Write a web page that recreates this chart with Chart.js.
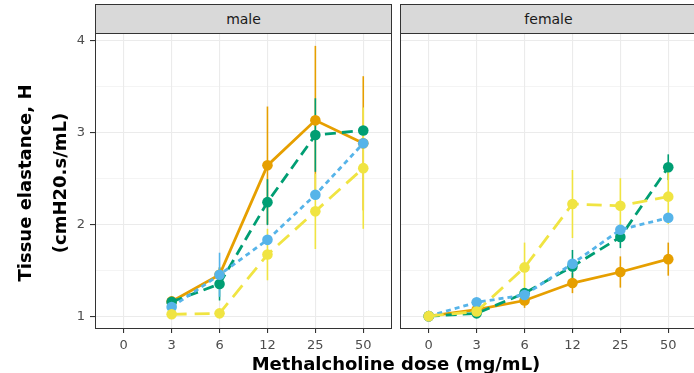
<!DOCTYPE html>
<html lang="en">
<head>
  <meta charset="UTF-8">
  <title>Tissue elastance vs methalcholine dose</title>
  <script src="https://cdn.jsdelivr.net/npm/chart.js"></script>
  <style>
    body {
      margin: 0;
      background: #fff;
      font-family: "DejaVu Sans", sans-serif;
    }
    #wrap {
      position: relative;
      width: 694px;
      height: 373px;
      overflow: hidden;
    }
    canvas {
      position: absolute;
      top: 0;
    }
    .strip {
      position: absolute;
      top: 4px;
      height: 30px;
      box-sizing: border-box;
      border: 1px solid #333;
      background: #d9d9d9;
      color: #1a1a1a;
      font-size: 14px;
      line-height: 28px;
      text-align: center;
    }
    .ytitle {
      position: absolute;
      width: 300px;
      height: 22px;
      line-height: 22px;
      text-align: center;
      font-weight: bold;
      font-size: 18px;
      transform: rotate(-90deg);
    }
    #xtitle {
      position: absolute;
      left: 246px;
      width: 300px;
      top: 354px;
      line-height: 20px;
      text-align: center;
      font-weight: bold;
      font-size: 18px;
      white-space: nowrap;
    }
  </style>
</head>
<body>
  <div id="wrap">
    <canvas id="maleChart" width="393" height="373" style="left:0"></canvas>
    <canvas id="femaleChart" width="299" height="373" style="left:399px"></canvas>

    <div class="strip" style="left:95px; width:297px">male</div>
    <div class="strip" style="left:400px; width:297px">female</div>

    <div class="ytitle" style="left:-125px; top:172px">Tissue elastance, H</div>
    <div class="ytitle" style="left:-90px; top:172px">(cmH20.s/mL)</div>
    <div id="xtitle">Methalcholine dose (mg/mL)</div>
  </div>

  <script>
    // x categories (doses) and y ticks
    const doseLabels = ["0", "3", "6", "12", "25", "50"];
    const doseIdx = [0, 1, 2, 3, 4, 5];
    const yTicks = [1, 1.5, 2, 2.5, 3, 3.5, 4];

    // male panel: mean and error per dose
    const maleOrange = [null, 1.16, 1.45, 2.64, 3.13, 2.88];
    const maleOrangeErr = [0, 0.04, 0.08, 0.64, 0.81, 0.73];
    const maleGreen = [null, 1.155, 1.35, 2.24, 2.97, 3.02];
    const maleGreenErr = [0, 0.03, 0.18, 0.25, 0.4, 0.05];
    const maleBlue = [null, 1.10, 1.45, 1.83, 2.32, 2.88];
    const maleBlueErr = [0, 0.03, 0.24, 0.05, 0.05, 0.05];
    const maleYellow = [null, 1.02, 1.03, 1.67, 2.14, 2.61];
    const maleYellowErr = [0, 0.02, 0.02, 0.28, 0.41, 0.66];

    // female panel
    const femaleOrange = [1.0, 1.07, 1.17, 1.36, 1.48, 1.62];
    const femaleOrangeErr = [0, 0.03, 0.08, 0.11, 0.17, 0.18];
    const femaleGreen = [1.0, 1.03, 1.25, 1.54, 1.86, 2.62];
    const femaleGreenErr = [0, 0.02, 0.05, 0.18, 0.12, 0.14];
    const femaleBlue = [1.0, 1.15, 1.23, 1.57, 1.94, 2.07];
    const femaleBlueErr = [0, 0.04, 0.05, 0.05, 0.06, 0.05];
    const femaleYellow = [1.0, 1.05, 1.53, 2.22, 2.20, 2.30];
    const femaleYellowErr = [0, 0.02, 0.27, 0.37, 0.30, 0.30];

    const styles = {
      orange: { color: "#E69F00", dash: [], order: 3 },
      green: { color: "#009E73", dash: [11, 6], order: 2 },
      blue: { color: "#56B4E9", dash: [5, 4], order: 1 },
      yellow: { color: "#F0E442", dash: [15, 8], order: 0 }
    };

    function series(values, errs, style) {
      const s = styles[style];
      return {
        data: doseIdx.map((x, i) => ({ x: x, y: values[i] })),
        err: errs,
        borderColor: s.color,
        backgroundColor: s.color,
        pointBackgroundColor: s.color,
        borderDash: s.dash,
        borderWidth: 2.8,
        pointRadius: 5.3,
        pointBorderWidth: 0,
        order: s.order,
        tension: 0
      };
    }

    // vertical error bars, under the lines and points
    const errorBars = {
      id: "errorBars",
      beforeDatasetsDraw(chart) {
        const { ctx, chartArea, scales } = chart;
        ctx.save();
        ctx.beginPath();
        ctx.rect(chartArea.left, chartArea.top, chartArea.width, chartArea.height);
        ctx.clip();
        chart.data.datasets.forEach(ds => {
          ctx.strokeStyle = ds.borderColor;
          ctx.lineWidth = 1.6;
          ds.data.forEach((p, i) => {
            if (p.y == null || !ds.err[i]) return;
            const px = scales.x.getPixelForValue(p.x);
            ctx.beginPath();
            ctx.moveTo(px, scales.y.getPixelForValue(p.y - ds.err[i]));
            ctx.lineTo(px, scales.y.getPixelForValue(p.y + ds.err[i]));
            ctx.stroke();
          });
        });
        ctx.restore();
      }
    };

    const panelBorder = {
      id: "panelBorder",
      afterDraw(chart) {
        const { ctx, chartArea: a } = chart;
        ctx.save();
        ctx.strokeStyle = "#333";
        ctx.lineWidth = 1;
        ctx.strokeRect(Math.round(a.left) + 0.5, Math.round(a.top) + 0.5,
          Math.round(a.width) - 1, Math.round(a.height) - 1);
        ctx.restore();
      }
    };

    function makePanel(id, datasets, showY) {
      const isMajor = v => Number.isInteger(v);
      return new Chart(document.getElementById(id), {
        type: "line",
        data: { datasets: datasets },
        plugins: [errorBars, panelBorder],
        options: {
          responsive: false,
          animation: false,
          layout: {
            autoPadding: false,
            padding: { top: 33, left: showY ? 0 : 1, right: 1, bottom: 0 }
          },
          plugins: { legend: { display: false }, tooltip: { enabled: false } },
          scales: {
            x: {
              type: "linear",
              min: -0.6,
              max: 5.6,
              afterBuildTicks: s => { s.ticks = doseIdx.map(v => ({ value: v })); },
              afterFit: s => {
                s.height = 44;
                s.paddingLeft = 0;
                s.paddingRight = 0;
              },
              border: { display: false },
              grid: { color: "#EBEBEB", lineWidth: 1.1, tickColor: "#333", tickLength: 4 },
              ticks: {
                callback: v => doseLabels[v],
                color: "#4D4D4D",
                font: { family: "DejaVu Sans", size: 13 },
                padding: 5,
                autoSkip: false,
                maxRotation: 0
              }
            },
            y: {
              min: 0.86,
              max: 4.08,
              afterBuildTicks: s => { s.ticks = yTicks.map(v => ({ value: v })); },
              afterFit: s => {
                s.width = showY ? 95 : 0;
                s.paddingTop = 0;
                s.paddingBottom = 0;
              },
              border: { display: false },
              grid: {
                color: "#EBEBEB",
                lineWidth: c => isMajor(c.tick.value) ? 1.1 : 0.55,
                tickColor: c => isMajor(c.tick.value) ? "#333" : "rgba(0,0,0,0)",
                tickLength: 5,
                drawTicks: showY
              },
              ticks: {
                display: showY,
                callback: v => isMajor(v) ? String(v) : "",
                color: "#4D4D4D",
                font: { family: "DejaVu Sans", size: 13 },
                padding: 5
              }
            }
          }
        }
      });
    }

    makePanel("maleChart", [
      series(maleOrange, maleOrangeErr, "orange"),
      series(maleGreen, maleGreenErr, "green"),
      series(maleBlue, maleBlueErr, "blue"),
      series(maleYellow, maleYellowErr, "yellow")
    ], true);

    makePanel("femaleChart", [
      series(femaleOrange, femaleOrangeErr, "orange"),
      series(femaleGreen, femaleGreenErr, "green"),
      series(femaleBlue, femaleBlueErr, "blue"),
      series(femaleYellow, femaleYellowErr, "yellow")
    ], false);
  </script>
</body>
</html>
